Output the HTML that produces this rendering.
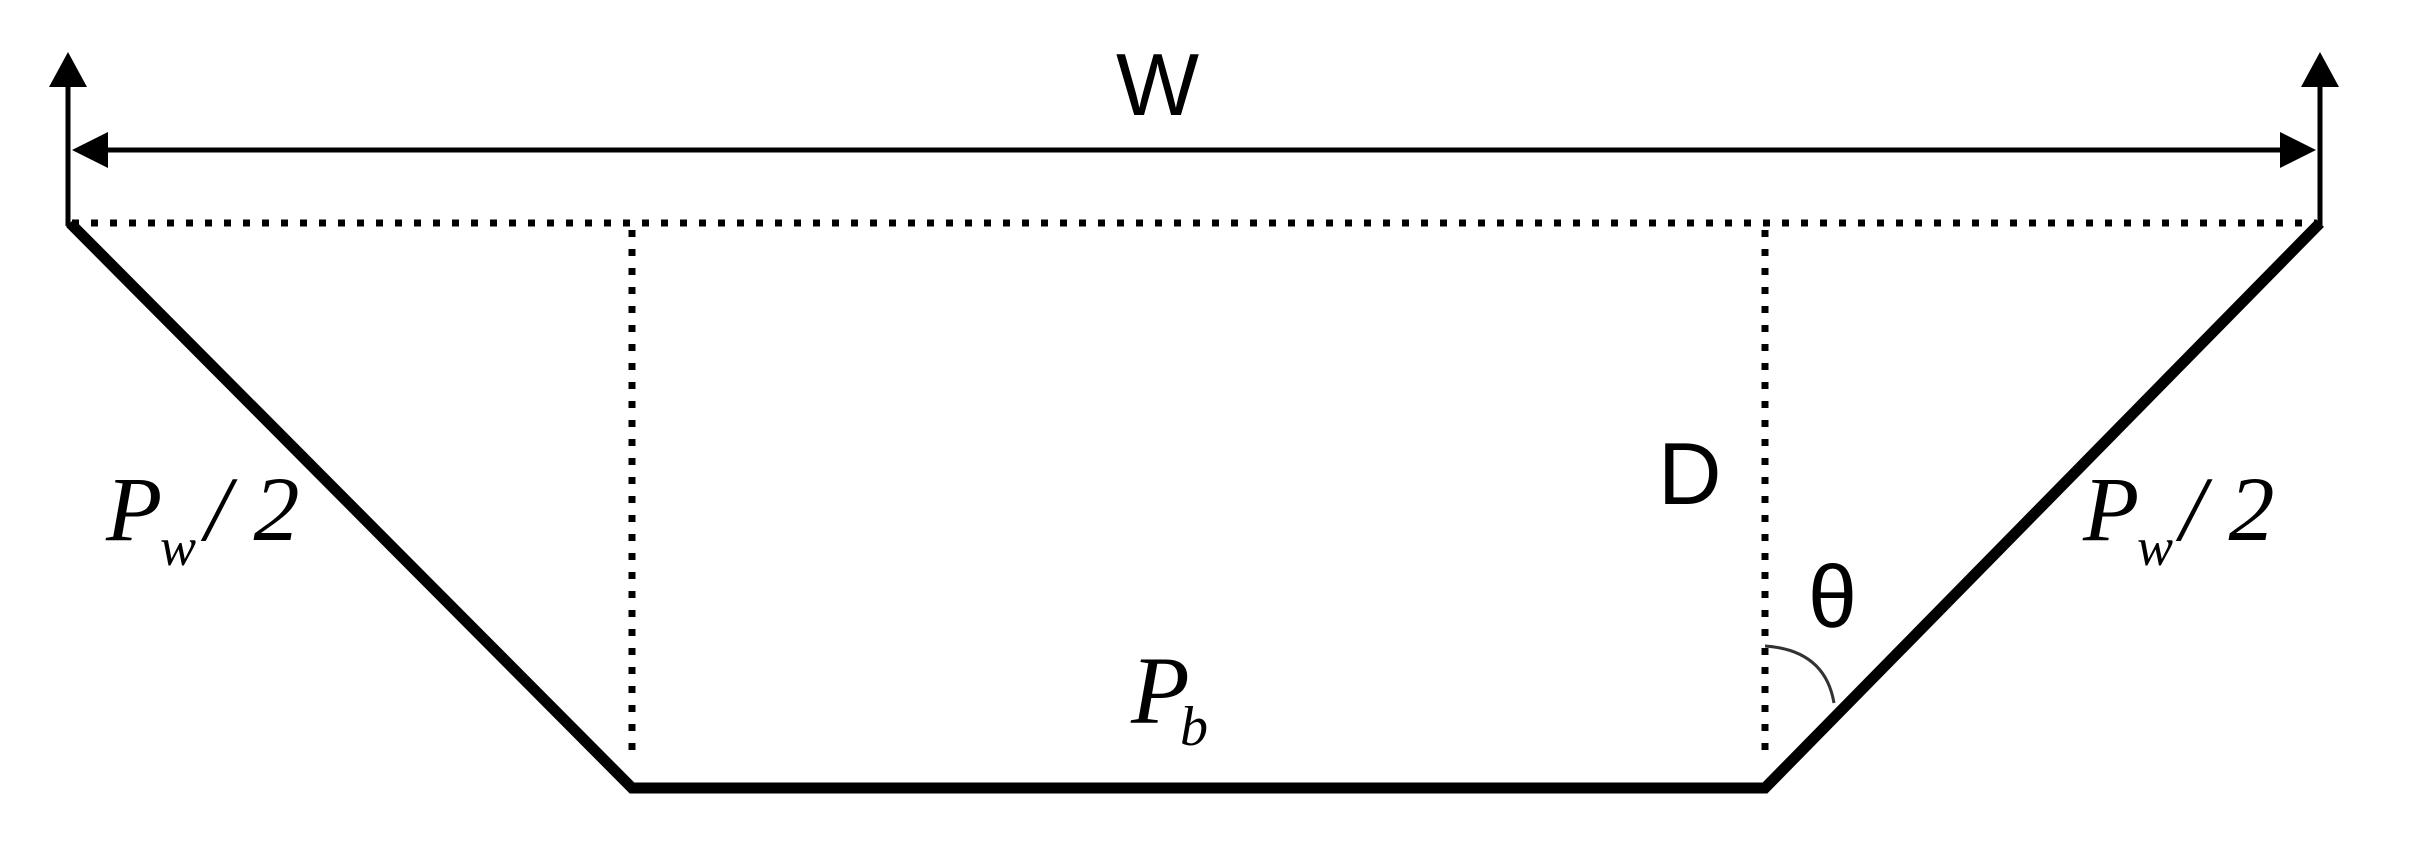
<!DOCTYPE html>
<html><head><meta charset="utf-8"><style>
html,body{margin:0;padding:0;background:#fff;}
svg{display:block;}
.s{font-family:"Liberation Sans",sans-serif;}
.i{font-family:"Liberation Serif",serif;font-style:italic;}
</style></head><body>
<svg width="2411" height="858" viewBox="0 0 2411 858" xmlns="http://www.w3.org/2000/svg">
<g stroke="#000" stroke-width="7" stroke-dasharray="7 12" fill="none">
<line x1="72" y1="223" x2="2316" y2="223"/>
<line x1="632" y1="230" x2="632" y2="758"/>
<line x1="1765" y1="230" x2="1765" y2="758"/>
</g>
<g stroke="#000" stroke-width="5" fill="none">
<line x1="68" y1="80" x2="68" y2="226"/>
<line x1="2320" y1="80" x2="2320" y2="226"/>
<line x1="100" y1="150" x2="2288" y2="150"/>
</g>
<polygon points="68,52 49,87 87,87" fill="#000"/>
<polygon points="2320,52 2301,87 2339,87" fill="#000"/>
<polygon points="72,150 108,132 108,168" fill="#000"/>
<polygon points="2316,150 2280,132 2280,168" fill="#000"/>
<polyline points="70,223 632,788 1765,788 2320,223" fill="none" stroke="#000" stroke-width="11" stroke-linejoin="miter"/>
<path d="M1765,646 Q1825,650 1834,703" fill="none" stroke="#333" stroke-width="3"/>
<text x="1116" y="115" class="s" font-size="88">W</text>
<text x="1658" y="504" class="s" font-size="88">D</text>
<text x="1808" y="627" class="s" font-size="88">θ</text>
<text x="106" y="540" class="i" font-size="92">P</text>
<text x="160" y="565" class="i" font-size="54">w</text>
<text x="205" y="540" class="i" font-size="92">/ 2</text>
<text x="2083" y="540" class="i" font-size="92">P</text>
<text x="2137" y="565" class="i" font-size="54">w</text>
<text x="2180" y="540" class="i" font-size="92">/ 2</text>
<text x="1131" y="723" class="i" font-size="96">P</text>
<text x="1180" y="745" class="i" font-size="56">b</text>
</svg>
</body></html>
